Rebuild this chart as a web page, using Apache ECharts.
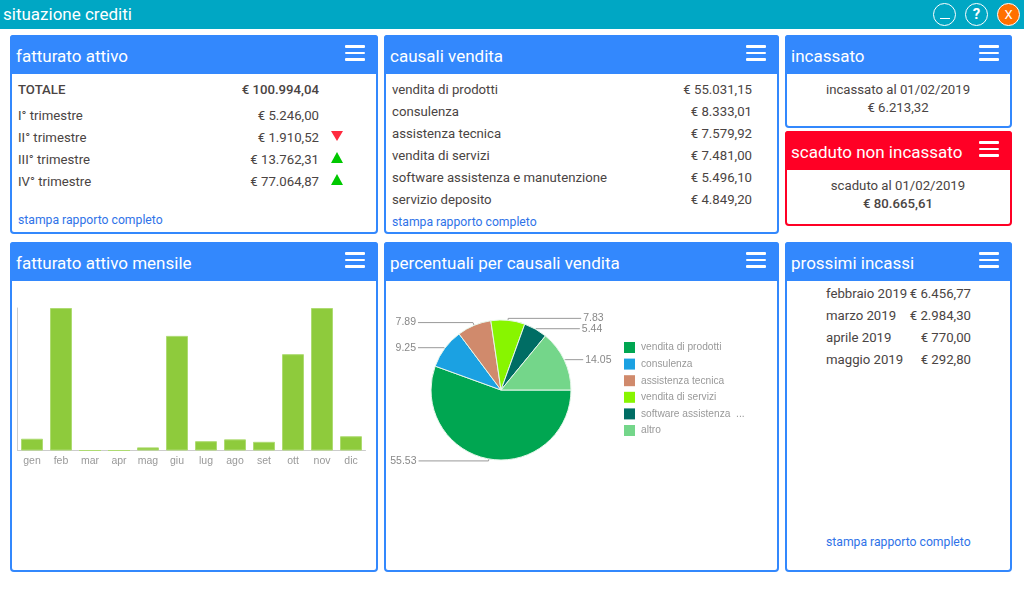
<!DOCTYPE html>
<html>
<head>
<meta charset="utf-8">
<title>situazione crediti</title>
<script src="https://cdn.jsdelivr.net/npm/echarts@6/dist/echarts.min.js"></script>
<style>
html, body { margin: 0; padding: 0; width: 1024px; height: 594px; background: #fff; overflow: hidden;
  font-family: Roboto, sans-serif; color: #4a4443; font-size: 14px; }
#bar { position: absolute; left: 0; top: 0; width: 1024px; height: 29px; background: #00a7c4; color: #fff; }
#bar .t { position: absolute; left: 3px; top: 3px; font-size: 17px; line-height: 23px; }
.btn { position: absolute; top: 3px; width: 21px; height: 21px; border: 1px solid #fff; border-radius: 50%;
  text-align: center; line-height: 21px; color: #fff; font-size: 15px; }
.btn i { position: absolute; left: 5.5px; top: 14px; width: 10px; height: 1px; background: #fff; }
.panel { position: absolute; box-sizing: border-box; border: 2px solid #3388fd; border-radius: 4px; background: #fff; }
.panel.red { border-color: #ff0025; }
.head { position: absolute; left: -2px; right: -2px; top: -2px; height: 39px; background: #3388fd; border-radius: 3px 3px 0 0;
  color: #fff; font-size: 17px; line-height: 43px; padding-left: 6px; }
.red .head { background: #ff0025; }
.burger { position: absolute; right: 13px; top: 10px; width: 20px; height: 16px; }
.burger i { position: absolute; left: 0; width: 20px; height: 2.6px; background: #fff; border-radius: 1px; }
.row { position: absolute; height: 18px; line-height: 18px; white-space: nowrap; font-size: 13.2px; }
.link { color: #2f73e8; font-size: 12.2px; }
.b { font-weight: 500; }
.c { text-align: center; }
.up, .down { position: absolute; width: 0; height: 0; border-left: 6.5px solid transparent; border-right: 6.5px solid transparent; }
.up { border-bottom: 11px solid #00c800; }
.down { border-top: 10px solid #ff2b3f; }
.chart { position: absolute; }
</style>
</head>
<body>
<div id="bar">
  <div class="t">situazione crediti</div>
  <div class="btn" style="left:933px"><i></i></div>
  <div class="btn" style="left:965px;font-weight:700">?</div>
  <div class="btn" style="left:997px;background:#ff7000;font-size:13px">X</div>
</div>
<div id="panels"></div>
<div id="barChart" class="chart" style="left:12px;top:282px;width:364px;height:288px"></div>
<div id="pieChart" class="chart" style="left:386px;top:282px;width:391px;height:288px"></div>

<script>
// dati pannelli
const trimestri = ['I° trimestre', 'II° trimestre', 'III° trimestre', 'IV° trimestre'];
const trimestriValori = ['€ 5.246,00', '€ 1.910,52', '€ 13.762,31', '€ 77.064,87'];
const causali = ['vendita di prodotti', 'consulenza', 'assistenza tecnica', 'vendita di servizi', 'software assistenza e manutenzione', 'servizio deposito'];
const causaliValori = ['€ 55.031,15', '€ 8.333,01', '€ 7.579,92', '€ 7.481,00', '€ 5.496,10', '€ 4.849,20'];
const prossimi = ['febbraio 2019', 'marzo 2019', 'aprile 2019', 'maggio 2019'];
const prossimiValori = ['€ 6.456,77', '€ 2.984,30', '€ 770,00', '€ 292,80'];

// dati grafici
const mesi = ['gen', 'feb', 'mar', 'apr', 'mag', 'giu', 'lug', 'ago', 'set', 'ott', 'nov', 'dic'];
const mensile = [190, 2300, 0, 0, 50, 1850, 150, 180, 140, 1555, 2300, 230];
const torta = ['vendita di prodotti', 'consulenza', 'assistenza tecnica', 'vendita di servizi', 'software assistenza e manutenzione', 'altro'];
const tortaValori = [55.53, 9.25, 7.89, 7.83, 5.44, 14.05];
const tortaColori = ['#00a651', '#1ba1e2', '#d08a6c', '#88f500', '#006d64', '#74d68a'];

let html = '';
function panel(x, y, w, h, title, cls) {
  html += '<div class="panel ' + (cls || '') + '" style="left:' + x + 'px;top:' + y + 'px;width:' + w + 'px;height:' + h + 'px">' +
    '<div class="head">' + title + '<div class="burger"><i style="top:0"></i><i style="top:6.5px"></i><i style="top:13px"></i></div></div></div>';
}
function left(x, y, s, cls) {
  html += '<div class="row ' + (cls || '') + '" style="left:' + x + 'px;top:' + (y - 9) + 'px">' + s + '</div>';
}
function right(x, y, s, cls) {
  html += '<div class="row ' + (cls || '') + '" style="right:' + (1024 - x) + 'px;top:' + (y - 9) + 'px">' + s + '</div>';
}
function center(x, y, s, cls) {
  html += '<div class="row c ' + (cls || '') + '" style="left:' + (x - 100) + 'px;width:200px;top:' + (y - 9) + 'px">' + s + '</div>';
}

panel(10, 35, 368, 199, 'fatturato attivo');
panel(384, 35, 395, 199, 'causali vendita');
panel(785, 35, 227, 93, 'incassato');
panel(785, 131, 227, 95, 'scaduto non incassato', 'red');
panel(10, 242, 368, 330, 'fatturato attivo mensile');
panel(384, 242, 395, 330, 'percentuali per causali vendita');
panel(785, 242, 227, 330, 'prossimi incassi');

left(18, 89.5, 'TOTALE', 'b');
right(319, 89.5, '€ 100.994,04', 'b');
trimestri.forEach((t, i) => {
  left(18, 115.5 + i * 22, t);
  right(319, 115.5 + i * 22, trimestriValori[i]);
});
left(18, 219.5, 'stampa rapporto completo', 'link');
html += '<div class="down" style="left:330.5px;top:131px"></div>';
html += '<div class="up" style="left:330.5px;top:152px"></div>';
html += '<div class="up" style="left:330.5px;top:174px"></div>';

causali.forEach((t, i) => {
  left(392, 89.5 + i * 22, t);
  right(752, 89.5 + i * 22, causaliValori[i]);
});
left(392, 221.5, 'stampa rapporto completo', 'link');

center(898, 89.5, 'incassato al 01/02/2019');
center(898, 108, '€ 6.213,32');
center(898, 186, 'scaduto al 01/02/2019');
center(898, 204, '€ 80.665,61', 'b');

prossimi.forEach((t, i) => {
  left(826, 293.5 + i * 22, t);
  right(971, 293.5 + i * 22, prossimiValori[i]);
});
left(826, 541.5, 'stampa rapporto completo', 'link');
document.getElementById('panels').innerHTML = html;

// istogramma mensile
const barChart = echarts.init(document.getElementById('barChart'));
barChart.setOption({
  animation: false,
  grid: { left: 5.5, top: 26, width: 348, height: 142.5 },
  xAxis: {
    type: 'category',
    data: mesi,
    axisLine: { lineStyle: { color: '#ccc' } },
    axisTick: { show: false },
    axisLabel: { color: '#999', fontSize: 10.5, fontFamily: 'Liberation Sans', margin: 5, interval: 0 }
  },
  yAxis: {
    type: 'value',
    min: 0,
    max: 2300,
    axisLine: { show: true, lineStyle: { color: '#ccc' } },
    axisTick: { show: false },
    axisLabel: { show: false },
    splitLine: { show: false }
  },
  series: [{
    type: 'bar',
    data: mensile,
    barWidth: 22,
    itemStyle: { color: '#8ecb3c', borderColor: '#aedb72', borderWidth: 1 }
  }]
});

// torta percentuali: lunghezze delle linee per ogni fetta
const lineeGuida = [[2, 70], [1, 26], [3, 55], [2, 73], [0.5, 44], [1, 18]];
const pieChart = echarts.init(document.getElementById('pieChart'));
pieChart.setOption({
  animation: false,
  legend: {
    orient: 'vertical',
    left: 238,
    top: 60,
    padding: 0,
    itemWidth: 11,
    itemHeight: 11,
    itemGap: 5.6,
    icon: 'rect',
    itemStyle: { borderWidth: 0 },
    data: torta,
    textStyle: { color: '#999', fontSize: 10.2, fontFamily: 'Liberation Sans', width: 108, overflow: 'truncate', ellipsis: ' ...', padding: [0, 0, 0, 1] }
  },
  series: [{
    type: 'pie',
    center: [115, 108],
    radius: 70,
    startAngle: 0,
    clockwise: true,
    avoidLabelOverlap: false,
    itemStyle: { borderColor: '#e6f6ea', borderWidth: 1 },
    label: { color: '#888', fontSize: 10.5, fontFamily: 'Liberation Sans', formatter: '{c}', distanceToLabelLine: 2 },
    labelLine: { lineStyle: { color: '#999', width: 1 } },
    labelLayout: { hideOverlap: false },
    data: torta.map((n, i) => ({
      name: n,
      value: tortaValori[i],
      itemStyle: { color: tortaColori[i] },
      labelLine: { length: lineeGuida[i][0], length2: lineeGuida[i][1] }
    }))
  }]
});
</script>
</body>
</html>
